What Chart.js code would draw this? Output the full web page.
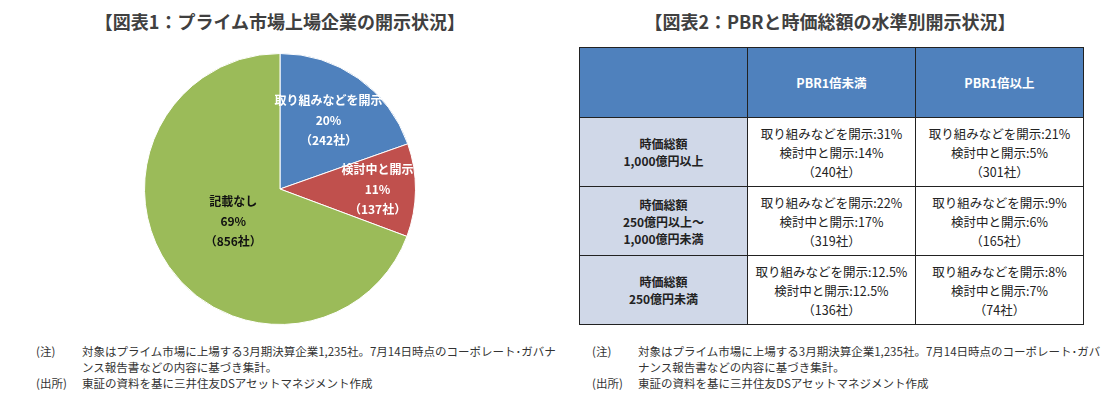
<!DOCTYPE html>
<html>
<head>
<meta charset="utf-8">
<script src="https://cdn.jsdelivr.net/npm/chart.js@4/dist/chart.umd.min.js"></script>
<style>
  body { margin: 0; background: #fff; font-family: "Noto Sans CJK JP", "Noto Sans", sans-serif; color: #333; }
  #wrap { position: relative; width: 1111px; height: 397px; overflow: hidden; }
  .title { position: absolute; top: 8px; font-size: 18px; font-weight: bold; color: #404040; white-space: nowrap; text-align: center; }
  #pieBox { position: absolute; left: 144px; top: 53px; width: 272px; height: 272px; }
  .note { position: absolute; font-size: 11.5px; color: #333; line-height: 16px; }
  .note td { padding: 0; vertical-align: top; }
  #tbl { position: absolute; left: 579px; top: 47px; border-collapse: collapse; }
  #tbl td, #tbl th { border: 1px solid #222; text-align: center; padding: 0; }
  #tbl th { background: #4F81BD; color: #fff; font-size: 12.5px; height: 69px; }
  #tbl td { font-size: 12.5px; line-height: 19px; height: 68px; color: #222; }
  #tbl td.rh { background: #D0D8E8; font-weight: bold; font-size: 12px; line-height: 17px; }
</style>
</head>
<body>
<div id="wrap">
  <div class="title" style="left:80px;width:400px;">【図表1：プライム市場上場企業の開示状況】</div>
  <div class="title" style="left:605px;width:450px;">【図表2：PBRと時価総額の水準別開示状況】</div>
  <div id="pieBox"><canvas id="chart-pie" width="272" height="272"></canvas></div>
  <table id="tbl"></table>
  <table class="note" style="left:36px;top:343px;width:522px;border-collapse:collapse;">
    <tr><td style="width:46px">(注)</td><td>対象はプライム市場に上場する3月期決算企業1,235社。7月14日時点のコーポレート･ガバナンス報告書などの内容に基づき集計。</td></tr>
    <tr><td>(出所)</td><td>東証の資料を基に三井住友DSアセットマネジメント作成</td></tr>
  </table>
  <table class="note" style="left:592px;top:343px;width:510px;border-collapse:collapse;">
    <tr><td style="width:46px">(注)</td><td>対象はプライム市場に上場する3月期決算企業1,235社。7月14日時点のコーポレート･ガバナンス報告書などの内容に基づき集計。</td></tr>
    <tr><td>(出所)</td><td>東証の資料を基に三井住友DSアセットマネジメント作成</td></tr>
  </table>
</div>
<script>
// ---------- data: chart 1 ----------
const pieLabels = ['取り組みなどを開示', '検討中と開示', '記載なし'];
const piePercents = [20, 11, 69];
const pieCompanies = [242, 137, 856];

// ---------- data: chart 2 ----------
const pbrCols = ['PBR1倍未満', 'PBR1倍以上'];
const capRows = [['時価総額', '1,000億円以上'], ['時価総額', '250億円以上～', '1,000億円未満'], ['時価総額', '250億円未満']];
const disclosedPct = [['31%', '21%'], ['22%', '9%'], ['12.5%', '8%']];
const consideringPct = [['14%', '5%'], ['17%', '6%'], ['12.5%', '7%']];
const companyCounts = [[240, 301], [319, 165], [136, 74]];

const pieColors = ['#4F81BD', '#C0504D', '#9BBB59'];
const labelColors = ['#fff', '#fff', '#111'];
const labelRadius = [0.62, 0.72, 0.42];

// labels inside the slices
const sliceLabels = {
    id: 'sliceLabels',
    afterDatasetsDraw(chart) {
        const ctx = chart.ctx;
        const meta = chart.getDatasetMeta(0);
        ctx.save();
        ctx.textAlign = 'center';
        ctx.textBaseline = 'middle';
        ctx.font = 'bold 12px "Noto Sans CJK JP"';
        meta.data.forEach((arc, i) => {
            const p = arc.getProps(['x', 'y', 'startAngle', 'endAngle', 'outerRadius'], true);
            const mid = (p.startAngle + p.endAngle) / 2;
            const r = p.outerRadius * labelRadius[i];
            const x = p.x + Math.cos(mid) * r;
            const y = p.y + Math.sin(mid) * r;
            ctx.fillStyle = labelColors[i];
            ctx.fillText(pieLabels[i], x, y - 20);
            ctx.fillText(piePercents[i] + '%', x, y);
            ctx.fillText('（' + pieCompanies[i] + '社）', x, y + 20);
        });
        ctx.restore();
    }
};

new Chart(document.getElementById('chart-pie').getContext('2d'), {
    type: 'pie',
    data: {
        labels: pieLabels,
        datasets: [{
            data: pieCompanies,
            backgroundColor: pieColors,
            borderColor: '#fff',
            borderWidth: 1
        }]
    },
    options: {
        responsive: false,
        animation: false,
        layout: { padding: 0 },
        plugins: { legend: { display: false }, tooltip: { enabled: false } }
    },
    plugins: [sliceLabels]
});

// ---------- table ----------
let html = '<tr><th style="width:167px"></th>';
pbrCols.forEach(c => { html += `<th style="width:167px">${c}</th>`; });
html += '</tr>';
capRows.forEach((row, r) => {
    html += `<tr><td class="rh">${row.join('<br>')}</td>`;
    pbrCols.forEach((_, c) => {
        html += `<td>取り組みなどを開示:${disclosedPct[r][c]}<br>検討中と開示:${consideringPct[r][c]}<br>（${companyCounts[r][c]}社）</td>`;
    });
    html += '</tr>';
});
document.getElementById('tbl').innerHTML = html;
</script>
</body>
</html>
